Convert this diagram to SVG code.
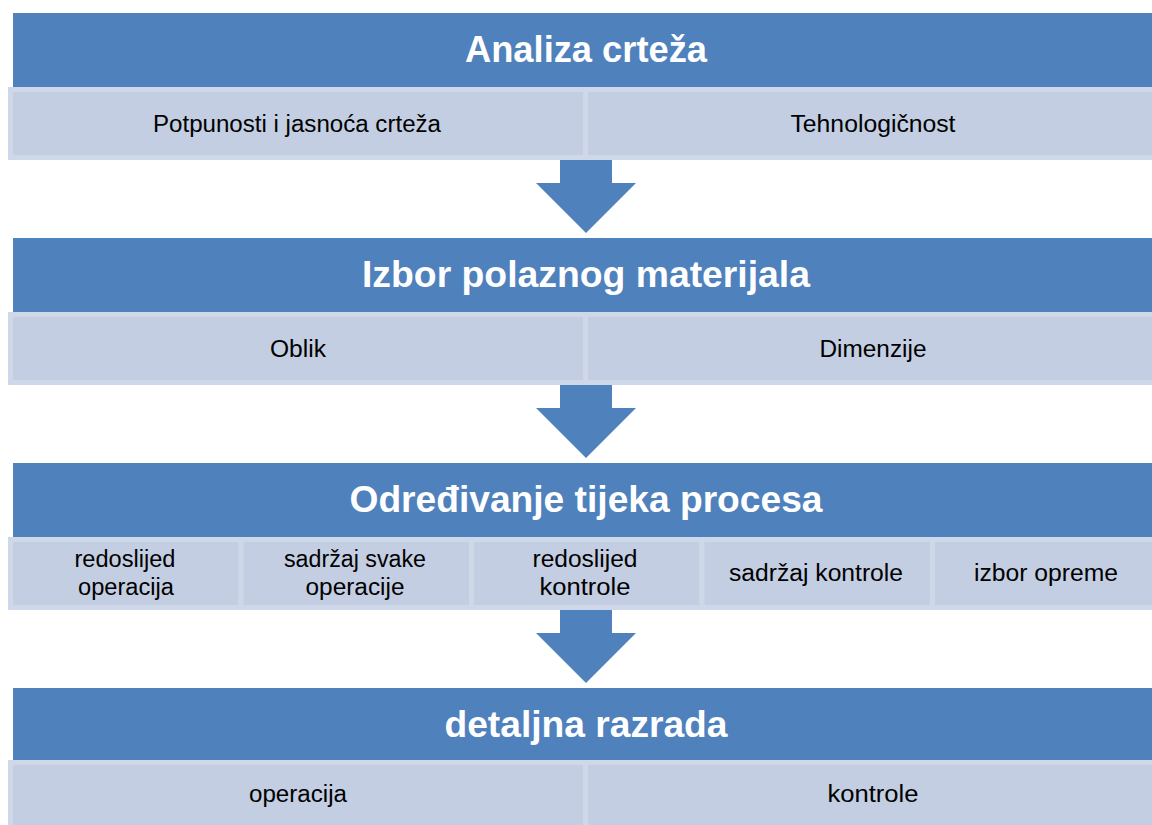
<svg xmlns="http://www.w3.org/2000/svg" width="1152" height="825" viewBox="0 0 1152 825">
<style>
.hdr{fill:#4F81BD}
.sub{fill:#C3CEE2;stroke:#CFD8E8;stroke-width:5}
.arrow{fill:#4F81BD}
.ht{font-family:"Liberation Sans",Arial,sans-serif;font-weight:bold;font-size:36px;fill:#FFFFFF;text-anchor:middle}
.st{font-family:"Liberation Sans",Arial,sans-serif;font-size:23px;fill:#000000;text-anchor:middle}
</style>
<rect width="1152" height="825" fill="#FFFFFF"/>
<g id="connectors">
<polygon class="arrow" points="560,158 612,158 612,183 636,183 586,233 536,183 560,183"/>
<polygon class="arrow" points="560,383 612,383 612,408 636,408 586,458 536,408 560,408"/>
<polygon class="arrow" points="560,608 612,608 612,633 636,633 586,683 536,633 560,633"/>
</g>
<g id="row1">
<g id="n-analiza"><rect class="hdr" x="13" y="13" width="1146" height="74"/><text class="ht" x="586" y="62" textLength="242" lengthAdjust="spacingAndGlyphs">Analiza crteža</text></g>
<g id="n-potpunosti"><rect class="sub" x="10.5" y="89.5" width="575" height="68"/><text class="st" x="297" y="132" textLength="288" lengthAdjust="spacingAndGlyphs">Potpunosti i jasnoća crteža</text></g>
<g id="n-tehno"><rect class="sub" x="585.5" y="89.5" width="575" height="68"/><text class="st" x="873" y="132" textLength="165" lengthAdjust="spacingAndGlyphs">Tehnologičnost</text></g>
</g>
<g id="row2">
<g id="n-izbor"><rect class="hdr" x="13" y="238" width="1146" height="74"/><text class="ht" x="586" y="287" textLength="448" lengthAdjust="spacingAndGlyphs">Izbor polaznog materijala</text></g>
<g id="n-oblik"><rect class="sub" x="10.5" y="314.5" width="575" height="68"/><text class="st" x="298" y="357" textLength="56" lengthAdjust="spacingAndGlyphs">Oblik</text></g>
<g id="n-dimenzije"><rect class="sub" x="585.5" y="314.5" width="575" height="68"/><text class="st" x="873" y="357" textLength="107" lengthAdjust="spacingAndGlyphs">Dimenzije</text></g>
</g>
<g id="row3">
<g id="n-odredivanje"><rect class="hdr" x="13" y="463" width="1146" height="74"/><text class="ht" x="586" y="512" textLength="473" lengthAdjust="spacingAndGlyphs">Određivanje tijeka procesa</text></g>
<g id="n-redoslijed-op"><rect class="sub" x="10.5" y="539.5" width="230.5" height="68"/><text class="st"><tspan x="125" y="567" textLength="101" lengthAdjust="spacingAndGlyphs">redoslijed</tspan><tspan x="126" y="595" textLength="96" lengthAdjust="spacingAndGlyphs">operacija</tspan></text></g>
<g id="n-sadrzaj-op"><rect class="sub" x="241" y="539.5" width="230.5" height="68"/><text class="st"><tspan x="355" y="567" textLength="142" lengthAdjust="spacingAndGlyphs">sadržaj svake</tspan><tspan x="355" y="595" textLength="99" lengthAdjust="spacingAndGlyphs">operacije</tspan></text></g>
<g id="n-redoslijed-ko"><rect class="sub" x="471.5" y="539.5" width="230.5" height="68"/><text class="st"><tspan x="585" y="567" textLength="105" lengthAdjust="spacingAndGlyphs">redoslijed</tspan><tspan x="585" y="595" textLength="91" lengthAdjust="spacingAndGlyphs">kontrole</tspan></text></g>
<g id="n-sadrzaj-ko"><rect class="sub" x="702" y="539.5" width="230.5" height="68"/><text class="st" x="816" y="581" textLength="174" lengthAdjust="spacingAndGlyphs">sadržaj kontrole</text></g>
<g id="n-oprema"><rect class="sub" x="932.5" y="539.5" width="230.5" height="68"/><text class="st" x="1046" y="581" textLength="144" lengthAdjust="spacingAndGlyphs">izbor opreme</text></g>
</g>
<g id="row4">
<g id="n-detaljna"><rect class="hdr" x="13" y="688" width="1146" height="72"/><text class="ht" x="586" y="737" textLength="283" lengthAdjust="spacingAndGlyphs">detaljna razrada</text></g>
<g id="n-operacija"><rect class="sub" x="10.5" y="762.5" width="575" height="68"/><text class="st" x="298" y="802" textLength="98" lengthAdjust="spacingAndGlyphs">operacija</text></g>
<g id="n-kontrole"><rect class="sub" x="585.5" y="762.5" width="575" height="68"/><text class="st" x="873" y="802" textLength="91" lengthAdjust="spacingAndGlyphs">kontrole</text></g>
</g>
</svg>
